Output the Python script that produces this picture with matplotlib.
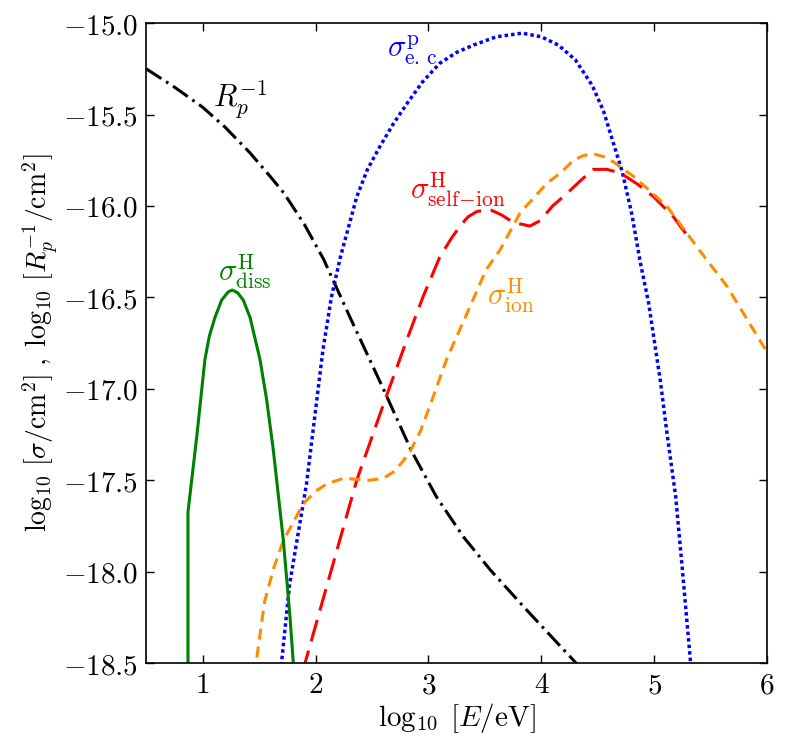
import matplotlib
matplotlib.use("Agg")
import matplotlib.pyplot as plt
from matplotlib.ticker import FuncFormatter, MultipleLocator

plt.rcParams['mathtext.fontset'] = 'cm'
plt.rcParams['lines.scale_dashes'] = False

# log10 E [eV] vs log10 cross section
rp_x = [0.5, 0.75, 1.0, 1.2, 1.42, 1.6, 1.72, 1.9, 2.07, 2.306, 2.6, 2.85, 3.07, 3.31,
        3.547, 3.87, 4.285, 4.35]
rp_y = [-15.25, -15.35, -15.46, -15.57, -15.71, -15.84, -15.93, -16.10, -16.29, -16.61,
        -17.0, -17.34, -17.59, -17.81, -17.99, -18.21, -18.485, -18.53]

ec_x = [1.69, 1.77, 1.92, 2.065, 2.14, 2.22, 2.365, 2.46, 2.57, 2.69, 2.81, 2.95, 3.10, 3.25,
        3.40, 3.6, 3.83, 4.0, 4.15, 4.3, 4.45, 4.55, 4.61, 4.715, 4.80, 4.877, 4.95, 5.055,
        5.11, 5.19, 5.245, 5.32, 5.335]
ec_y = [-18.55, -18.07, -17.52, -16.79, -16.50, -16.28, -15.95, -15.80, -15.675, -15.55,
        -15.44, -15.32, -15.22, -15.16, -15.12, -15.075, -15.055, -15.075, -15.12, -15.20,
        -15.34, -15.48, -15.60, -15.81, -16.04, -16.31, -16.53, -16.96, -17.23, -17.59,
        -17.96, -18.485, -18.6]

self_x = [1.89, 1.907, 2.305, 2.365, 2.616, 2.81, 2.95, 3.10, 3.2, 3.28, 3.35, 3.43, 3.545,
          3.65, 3.75, 3.90, 3.99, 4.1, 4.23, 4.35, 4.46, 4.58, 4.70, 4.85, 4.995, 5.17, 5.29]
self_y = [-18.55, -18.5, -17.63, -17.50, -17.06, -16.73, -16.50, -16.28, -16.18, -16.11,
          -16.06, -16.03, -16.02, -16.05, -16.09, -16.11, -16.08, -16.0, -15.93, -15.86,
          -15.80, -15.80, -15.82, -15.88, -15.95, -16.06, -16.16]

ion_x = [1.48, 1.55, 1.63, 1.715, 1.89, 2.0, 2.10, 2.245, 2.48, 2.6, 2.69, 2.77, 2.84, 2.93,
         3.015, 3.16, 3.34, 3.51, 3.635, 3.81, 4.05, 4.17, 4.285, 4.37, 4.46, 4.55, 4.64, 4.82,
         5.11, 5.41, 5.645, 5.94, 6.0]
ion_y = [-18.47, -18.16, -17.98, -17.83, -17.63, -17.56, -17.52, -17.49, -17.50, -17.49,
         -17.455, -17.40, -17.34, -17.23, -17.09, -16.84, -16.59, -16.35, -16.24, -16.04,
         -15.875, -15.82, -15.75, -15.725, -15.715, -15.73, -15.76, -15.84, -16.0, -16.25,
         -16.44, -16.74, -16.80]

diss_x = [0.87, 0.87, 0.95, 1.02, 1.06, 1.109, 1.168, 1.227, 1.263, 1.31, 1.36, 1.42, 1.508,
          1.567, 1.626, 1.715, 1.774, 1.803, 1.82]
diss_y = [-19.0, -17.675, -17.25, -16.84, -16.71, -16.61, -16.515, -16.47, -16.46, -16.475,
          -16.515, -16.61, -16.84, -17.06, -17.335, -17.83, -18.25, -18.5, -18.6]

fig = plt.figure(figsize=(7.86, 7.45), dpi=100)
ax = fig.add_axes([0.186, 0.110, 0.790, 0.859])

ax.plot(rp_x, rp_y, color='black', lw=2.2, dashes=(13, 4, 2, 4))
ax.plot(ec_x, ec_y, color='blue', lw=2.5, dashes=(2.5, 2.2))
ax.plot(self_x, self_y, color='red', lw=2.2, dashes=(16, 7))
ax.plot(ion_x, ion_y, color='darkorange', lw=2.2, dashes=(8, 5))
ax.plot(diss_x, diss_y, color='green', lw=2.2)

ax.text(1.33, -15.42, r'$R_p^{-1}$', color='black', fontsize=22, ha='center', va='center')
ax.text(2.88, -15.15, r'$\sigma^{\rm p}_{\rm e.\,c.}$', color='blue', fontsize=22, ha='center', va='center')
ax.text(3.26, -15.91, r'$\sigma^{\rm H}_{\rm self\!-\!ion}$', color='red', fontsize=22, ha='center', va='center')
ax.text(3.73, -16.49, r'$\sigma^{\rm H}_{\rm ion}$', color='darkorange', fontsize=22, ha='center', va='center')
ax.text(1.37, -16.36, r'$\sigma^{\rm H}_{\rm diss}$', color='green', fontsize=22, ha='center', va='center')

ax.set_xlim(0.5, 6)
ax.set_ylim(-18.5, -15.0)
ax.xaxis.set_major_locator(MultipleLocator(1))
ax.yaxis.set_major_locator(MultipleLocator(0.5))
ax.xaxis.set_major_formatter(FuncFormatter(lambda v, p: r'$%d$' % round(v)))
ax.yaxis.set_major_formatter(FuncFormatter(lambda v, p: r'$%.1f$' % v))
ax.tick_params(direction='in', top=True, right=True, length=6, width=1, labelsize=21, pad=6)
for s in ax.spines.values():
    s.set_linewidth(1.2)

ax.set_xlabel(r'$\log_{10}\;[E/\mathrm{eV}]$', fontsize=21, labelpad=1)
ax.set_ylabel(r'$\log_{10}\,[\sigma/\mathrm{cm}^2]\;,\;\log_{10}\,[R_p^{-1}/\mathrm{cm}^2]$', fontsize=20, labelpad=1)

fig.savefig('out.png', dpi=100)
